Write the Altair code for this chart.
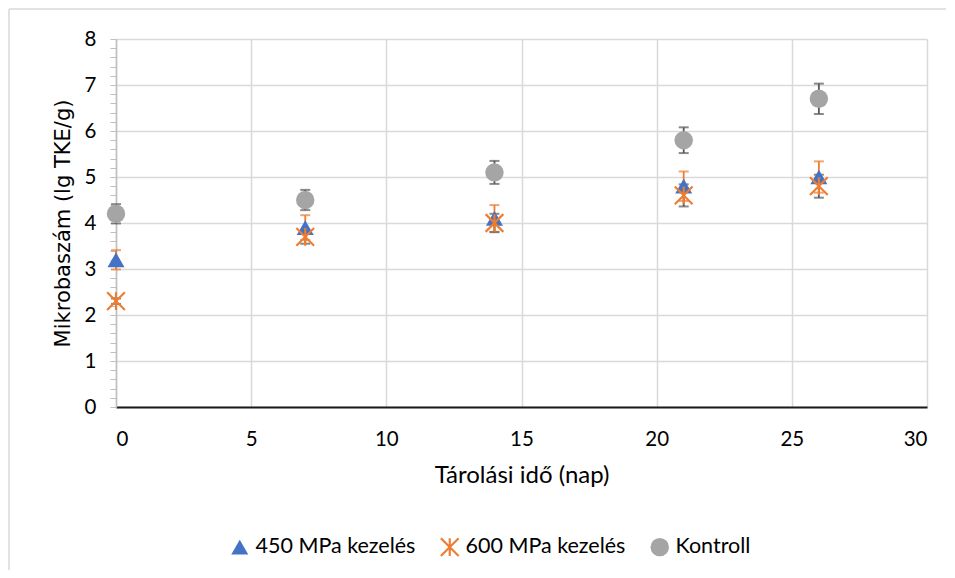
import altair as alt
import pandas as pd

# ---- data ----
days = [0, 7, 14, 21, 26]
series_names = ["450 MPa kezelés", "600 MPa kezelés", "Kontroll"]
mpa450 = [3.2, 3.9, 4.1, 4.8, 5.0]
err450 = [0.21, 0.27, 0.29, 0.32, 0.34]
mpa600 = [2.3, 3.7, 4.0, 4.6, 4.8]
err600 = [0.06, 0.15, 0.20, 0.24, 0.25]
kontroll = [4.2, 4.5, 5.1, 5.8, 6.7]
errk = [0.21, 0.22, 0.25, 0.28, 0.33]

x_ticks = [0, 5, 10, 15, 20, 25, 30]
y_ticks = [round(i * 0.2, 1) for i in range(41)]

rows = []
for name, vals, errs in zip(series_names, [mpa450, mpa600, kontroll], [err450, err600, errk]):
    for d, v, e in zip(days, vals, errs):
        rows.append({"nap": d, "ertek": v, "hiba": e, "sorozat": name})
df = pd.DataFrame(rows)

# Excel-style "star" marker: an X with a vertical bar, as a filled outline
asterisk = ("M-0.12,-1L0.12,-1L0.12,1L-0.12,1Z "
            "M-0.915,-1.085L1.085,0.915L0.915,1.085L-1.085,-0.915Z "
            "M1.085,-0.915L-0.915,1.085L-1.085,0.915L0.915,-1.085Z")

color_scale = alt.Scale(domain=series_names, range=["#4472C4", "#ED7D31", "#A5A5A5"])
shape_scale = alt.Scale(domain=series_names, range=["triangle-up", asterisk, "circle"])
size_scale = alt.Scale(domain=series_names, range=[290, 340, 215])
# error-bar colours (domain listed in another order so it stays a separate guide-less scale)
err_domain = list(reversed(series_names))
err_scale = alt.Scale(domain=err_domain, range=["#595959", "#595959", "#ED7D31"])

is_int = "abs(datum.value - round(datum.value)) < 0.001"

x_axis = alt.Axis(values=x_ticks, title="Tárolási idő (nap)", ticks=False, tickSize=0,
                  labelPadding=22, grid=True, gridColor="#d9d9d9", gridWidth=1.5,
                  domainColor="#1a1a1a", domainWidth=2, titlePadding=14,
                  titleFont="Lato", titleFontSize=24, titleFontWeight="normal",
                  titleColor="#000000")
y_axis = alt.Axis(values=y_ticks, title="Mikrobaszám (lg TKE/g)",
                  labelExpr=f"{is_int} ? format(datum.value, 'd') : ''",
                  gridOpacity={"condition": {"test": is_int, "value": 1}, "value": 0},
                  gridColor="#d9d9d9", gridWidth=1.5, labelOverlap=False,
                  tickColor="#bfbfbf", tickSize=6, domainColor="#bfbfbf", domainWidth=1.5,
                  labelPadding=14, titlePadding=11, titleFont="DejaVu Sans",
                  titleFontSize=21, titleFontWeight="normal", titleColor="#000000")

x_enc = alt.X("nap:Q", scale=alt.Scale(domain=[0, 30], nice=False, zero=False), axis=x_axis)

base = alt.Chart(df).transform_calculate(
    lo="datum.ertek - datum.hiba", hi="datum.ertek + datum.hiba"
)

err_rules = base.mark_rule(strokeWidth=1.8).encode(
    x=x_enc,
    y=alt.Y("lo:Q", scale=alt.Scale(domain=[0, 8], nice=False), axis=y_axis),
    y2="hi:Q",
    stroke=alt.Stroke("sorozat:N", scale=err_scale, legend=None),
)
caps_hi = base.mark_tick(orient="horizontal", size=10, thickness=2, filled=True).encode(
    x=x_enc,
    y=alt.Y("hi:Q", scale=alt.Scale(domain=[0, 8], nice=False), axis=y_axis),
    fill=alt.Fill("sorozat:N", scale=err_scale, legend=None),
)
caps_lo = base.mark_tick(orient="horizontal", size=10, thickness=2, filled=True).encode(
    x=x_enc,
    y=alt.Y("lo:Q", scale=alt.Scale(domain=[0, 8], nice=False), axis=y_axis),
    fill=alt.Fill("sorozat:N", scale=err_scale, legend=None),
)

legend = alt.Legend(orient="none", legendX=113, legendY=497, direction="horizontal",
                    title=None, labelFont="Lato", labelFontSize=21.5, labelColor="#000000",
                    symbolStrokeWidth=0, labelOffset=5, columnPadding=23,
                    labelLimit=300)

points = base.mark_point(filled=True, opacity=1).encode(
    x=x_enc,
    y=alt.Y("ertek:Q", scale=alt.Scale(domain=[0, 8], nice=False), axis=y_axis),
    color=alt.Color("sorozat:N", scale=color_scale, legend=legend, sort=series_names),
    shape=alt.Shape("sorozat:N", scale=shape_scale, legend=legend, sort=series_names),
    size=alt.Size("sorozat:N", scale=size_scale, legend=legend, sort=series_names),
)

frame = pd.DataFrame({"k": [0]})
border_top = alt.Chart(frame).mark_rule(color="#d9d9d9", strokeWidth=1.5).encode(
    x=alt.value(-107), x2=alt.value(830), y=alt.value(-30)
)
border_left = alt.Chart(frame).mark_rule(color="#d9d9d9", strokeWidth=1.5).encode(
    x=alt.value(-107), y=alt.value(-30), y2=alt.value(540)
)

chart = alt.layer(border_top, border_left, err_rules, caps_hi, caps_lo, points).properties(
    width=811, height=368,
    autosize=alt.AutoSizeParams(type="none"),
    padding={"left": 108, "top": 31, "right": 20, "bottom": 163},
).configure_view(stroke=None).configure_axis(
    labelFont="Lato", labelFontSize=20.5, labelColor="#000000"
)

chart.save("out.html", embed_options={"renderer": "svg", "actions": False})
